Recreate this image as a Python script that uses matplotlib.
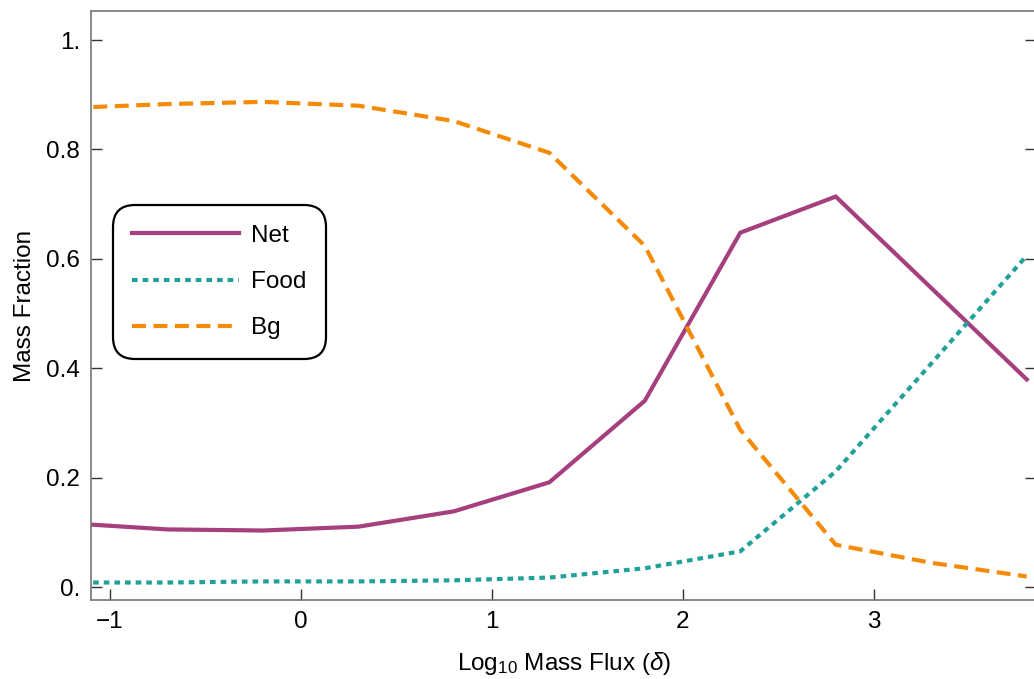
import matplotlib
matplotlib.use("Agg")
import matplotlib.pyplot as plt
from matplotlib.ticker import FixedLocator, FixedFormatter

plt.rcParams['font.family'] = ['Liberation Sans', 'DejaVu Sans']
plt.rcParams['mathtext.fontset'] = 'custom'
plt.rcParams['mathtext.rm'] = 'Liberation Sans'
plt.rcParams['mathtext.it'] = 'Liberation Sans:italic'

# log10 mass flux
log_flux = [-1.2, -0.7, -0.2, 0.3, 0.8, 1.3, 1.8, 2.3, 2.8, 3.3, 3.8]

# mass fractions
net = [0.117, 0.106, 0.104, 0.111, 0.139, 0.192, 0.341, 0.648, 0.714, 0.547, 0.380]
food = [0.009, 0.009, 0.011, 0.011, 0.013, 0.018, 0.035, 0.066, 0.212, 0.409, 0.606]
bg = [0.876, 0.883, 0.887, 0.880, 0.852, 0.794, 0.624, 0.288, 0.078, 0.045, 0.020]

xticks = [-1, 0, 1, 2, 3]
xtick_labels = ['\u22121', '0', '1', '2', '3']
yticks = [0.0, 0.2, 0.4, 0.6, 0.8, 1.0]
ytick_labels = ['0.', '0.2', '0.4', '0.6', '0.8', '1.']

fs = 17.5

fig = plt.figure(figsize=(10.34, 6.79), dpi=100)
ax = fig.add_axes([0.088, 0.1163, 0.9142, 0.8675])

lw = 3.0
ax.plot(log_flux, net, color='#a53f7d', lw=lw, label='Net', solid_joinstyle='miter')
l_food, = ax.plot(log_flux, food, color='#22a09a', lw=lw, label='Food', dash_capstyle='butt')
l_food.set_dashes((1.35, 1.2))
l_bg, = ax.plot(log_flux, bg, color='#f58a07', lw=lw, label='Bg', dash_capstyle='butt')
l_bg.set_dashes((3.35, 1.8))

ax.set_xlim(-1.1, 3.85)
ax.set_ylim(-0.023, 1.053)

ax.xaxis.set_major_locator(FixedLocator(xticks))
ax.xaxis.set_major_formatter(FixedFormatter(xtick_labels))
ax.yaxis.set_major_locator(FixedLocator(yticks))
ax.yaxis.set_major_formatter(FixedFormatter(ytick_labels))

ax.tick_params(direction='in', length=8, width=1, colors='#333333', labelcolor='black',
               labelsize=fs, right=True, top=False, pad=8)
for side in ['left', 'bottom', 'top', 'right']:
    ax.spines[side].set_color('#777777')
    ax.spines[side].set_linewidth(1.2)

ax.set_xlabel(r'Log$_{10}$ Mass Flux ($\mathit{\delta}$)', fontsize=fs, labelpad=12)
ax.set_ylabel('Mass Fraction', fontsize=fs, labelpad=7)

leg = ax.legend(loc='upper left', bbox_to_anchor=(0.023, 0.670), fontsize=fs,
                handlelength=4.4, labelspacing=1.0, handletextpad=0.5,
                borderpad=0.8, borderaxespad=0, fancybox=True, framealpha=1)
leg.get_frame().set_edgecolor('black')
leg.get_frame().set_linewidth(1.6)
leg.get_frame().set_boxstyle('round', pad=0.0, rounding_size=0.9)

fig.savefig('out.png', dpi=100)
